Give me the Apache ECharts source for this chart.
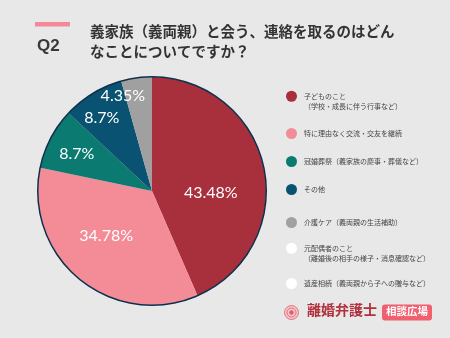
<!DOCTYPE html>
<html><head><meta charset="utf-8">
<script src="https://cdn.jsdelivr.net/npm/echarts@6/dist/echarts.min.js"></script>
<style>html,body{margin:0;padding:0;background:#e8e8e8;}#c{width:450px;height:338px;}</style>
</head><body><div id="c"></div>
<script>
const categories = [
  "子どものこと\n（学校・成長に伴う行事など）",
  "特に理由なく交流・交友を継続",
  "冠婚葬祭（義家族の慶事・葬儀など）",
  "その他",
  "介護ケア（義両親の生活補助）",
  "元配偶者のこと\n（離婚後の相手の様子・消息確認など）",
  "遺産相続（義両親から子への贈与など）"
];
const values = [43.48, 34.78, 8.7, 8.7, 4.35, 0, 0];
const colors = ["#a82f3c", "#f48c98", "#0b7a70", "#0a5271", "#a0a0a0", "#ffffff", "#ffffff"];
const legendTops = [86, 123, 151, 179, 212, 238, 273];
const labelShift = [[0, 14], [-8, -2], [-22, -10], [-19, -22], [-21, -36], [0, 0], [0, 0]];

const chart = echarts.init(document.getElementById('c'), null, {renderer: 'canvas'});
const font = '"Noto Sans CJK JP", sans-serif';

const legends = categories.map((name, i) => {
  const twoLine = name.indexOf('\n') >= 0;
  return {
    left: 281,
    top: twoLine ? legendTops[i] - 10.5 : legendTops[i],
    orient: 'vertical',
    data: [name],
    icon: 'circle',
    itemWidth: 11, itemHeight: 11, itemGap: 0,
    selectedMode: false,
    formatter: n => twoLine ? '\n' + n : n,
    textStyle: {fontFamily: font, fontSize: 7, color: '#444', lineHeight: 10.5, padding: [0, 0, 0, 2]}
  };
});

chart.setOption({
  backgroundColor: '#e8e8e8',
  animation: false,
  color: colors,
  legend: legends,
  series: [
    {
      type: 'pie',
      center: [152, 191],
      radius: [0, 114],
      startAngle: 90,
      clockwise: true,
      silent: true,
      data: categories.map((n, i) => ({name: n, value: values[i]})),
      itemStyle: {borderWidth: 0},
      label: {
        show: true, position: 'inside',
        formatter: p => p.value > 0 ? p.value + '%' : '',
        fontFamily: 'Lato, sans-serif', fontSize: 16, color: '#fff'
      },
      labelLayout: p => ({dx: labelShift[p.dataIndex][0], dy: labelShift[p.dataIndex][1]}),
      labelLine: {show: false}
    },
    {
      type: 'pie',
      center: [152, 191],
      radius: [113.5, 115],
      silent: true,
      legendHoverLink: false,
      label: {show: false},
      data: [{name: '_ring', value: 1, itemStyle: {color: '#0e2f4c'}}]
    }
  ],
  graphic: [
    {type: 'rect', shape: {x: 35, y: 22, width: 35, height: 4.5}, style: {fill: '#f4899a'}},
    {type: 'text', left: 37, top: 38, style: {text: 'Q2', font: 'bold 17px "Liberation Sans", Arial, sans-serif', fill: '#3a3a3a'}},
    {type: 'text', left: 90, top: 22, style: {text: '義家族（義両親）と会う、連絡を取るのはどん\nなことについてですか？', font: 'bold 14.5px "Noto Sans CJK JP", sans-serif', fill: '#333', lineHeight: 19.5}},
    {type: 'circle', shape: {cx: 291.5, cy: 312.5, r: 7}, style: {fill: '#f6c4c9', stroke: '#d9606c', lineWidth: 0.8}},
    {type: 'circle', shape: {cx: 291.5, cy: 312.5, r: 4.5}, style: {fill: 'none', stroke: '#d9606c', lineWidth: 0.8}},
    {type: 'circle', shape: {cx: 291.5, cy: 312.5, r: 2.2}, style: {fill: '#d9606c'}},
    {type: 'text', left: 307, top: 303, style: {text: '離婚弁護士', font: 'bold 14px "Noto Sans CJK JP", sans-serif', fill: '#b0303c'}},
    {type: 'rect', shape: {x: 382, y: 304.5, width: 50, height: 16, r: 3}, style: {fill: '#f0606e'}},
    {type: 'text', left: 386, top: 306, style: {text: '相談広場', font: 'bold 10.5px "Noto Sans CJK JP", sans-serif', fill: '#fff'}}
  ]
});
</script></body></html>
